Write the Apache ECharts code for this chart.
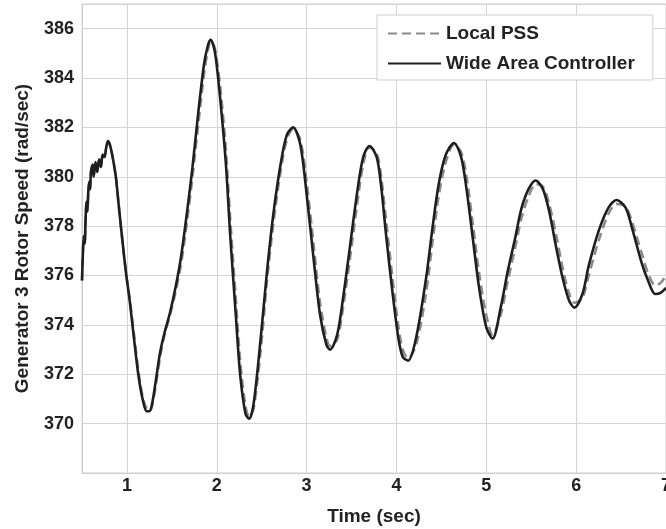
<!DOCTYPE html>
<html>
<head>
<meta charset="utf-8">
<script src="https://cdn.jsdelivr.net/npm/echarts@6/dist/echarts.min.js"></script>
<style>
html,body{margin:0;padding:0;background:#fff;}
#chart{width:666px;height:529px;}
</style>
</head>
<body>
<div id="chart"></div>
<script>
// Time samples (sec)
var timeSec = [0.50,0.51,0.52,0.53,0.54,0.55,0.56,0.57,0.58,0.59,0.60,0.62,0.63,0.65,0.67,0.69,0.71,0.73,0.75,0.77,0.79,0.81,0.83,0.86,0.88,0.91,0.95,0.99,1.03,1.08,1.13,1.18,1.22,1.25,1.28,1.32,1.37,1.42,1.48,1.54,1.60,1.67,1.73,1.80,1.86,1.90,1.93,1.96,1.99,2.04,2.10,2.15,2.21,2.26,2.32,2.36,2.41,2.49,2.56,2.63,2.71,2.78,2.85,2.93,3.00,3.08,3.15,3.22,3.26,3.34,3.41,3.48,3.56,3.63,3.70,3.78,3.83,3.88,3.95,4.02,4.07,4.13,4.22,4.33,4.40,4.47,4.55,4.64,4.72,4.78,4.85,4.92,5.00,5.07,5.16,5.24,5.32,5.39,5.47,5.55,5.63,5.70,5.78,5.85,5.92,5.98,6.07,6.14,6.25,6.36,6.45,6.55,6.62,6.73,6.80,6.88,6.94,7.00];

// Wide Area Controller (solid)
var wideArea = [375.8,376.9,377.6,377.3,378.3,379.0,378.6,379.4,379.8,379.5,380.2,380.5,380.0,380.6,380.2,380.7,380.4,380.9,380.8,381.2,381.45,381.3,381.0,380.4,379.9,378.8,377.4,376.1,375.0,373.4,371.9,370.9,370.5,370.5,370.8,371.7,372.9,373.7,374.5,375.5,376.7,378.6,380.4,382.8,384.6,385.3,385.55,385.35,384.8,383.1,380.6,377.6,374.5,372.0,370.4,370.2,370.8,373.5,376.2,378.5,380.5,381.7,382.0,381.3,379.3,376.6,374.4,373.2,373.0,373.6,375.2,377.1,379.3,380.8,381.25,380.8,379.6,377.8,375.5,373.5,372.7,372.55,373.5,375.9,377.9,379.7,380.9,381.37,380.8,379.5,377.5,375.5,373.9,373.45,374.7,376.2,377.5,378.7,379.5,379.85,379.5,378.6,377.1,375.9,375.0,374.7,375.25,376.4,377.8,378.75,379.06,378.75,377.95,376.5,375.8,375.25,375.3,375.5];

// Local PSS (dashed)
var localPSS = [375.8,376.9,377.6,377.3,378.3,379.0,378.6,379.4,379.8,379.5,380.2,380.5,380.0,380.6,380.2,380.7,380.4,380.9,380.8,381.2,381.45,381.3,381.0,380.4,379.9,378.8,377.4,376.1,375.1,373.6,372.1,371.0,370.6,370.5,370.7,371.5,372.7,373.6,374.4,375.3,376.4,378.2,380.0,382.3,384.2,385.1,385.45,385.4,385.0,383.6,381.2,378.3,375.2,372.6,370.7,370.3,370.6,373.0,375.8,378.1,380.2,381.5,381.95,381.5,379.8,377.2,374.9,373.5,373.15,373.4,374.8,376.6,378.8,380.5,381.2,380.95,380.0,378.4,376.1,374.0,373.0,372.65,373.2,375.3,377.3,379.2,380.6,381.3,381.0,380.0,378.1,376.1,374.4,373.6,374.4,375.8,377.1,378.3,379.2,379.7,379.6,378.9,377.6,376.3,375.3,374.9,375.1,376.0,377.4,378.5,378.9,378.8,378.2,376.9,376.1,375.6,375.7,376.0];

var xTicks = [1,2,3,4,5,6,7];
var seriesNames = ['Local PSS','Wide Area Controller'];

function pairs(t, v){ var out=[]; for (var i=0;i<t.length;i++) out.push([t[i], v[i]]); return out; }

var FONT = '"Liberation Sans", Arial, Helvetica, sans-serif';
var chart = echarts.init(document.getElementById('chart'), null, {renderer:'canvas'});
chart.setOption({
  animation:false,
  backgroundColor:'#fff',
  grid:{left:82, right:0, top:4, bottom:56, show:true, borderColor:'#cfcfcf', borderWidth:1, containLabel:false, outerBoundsMode:'none'},
  legend:{
    orient:'vertical', left:377, top:15,
    data:seriesNames,
    itemWidth:53, itemHeight:14, itemGap:11,
    padding:[9,18,7,10],
    itemStyle:{opacity:0},
    backgroundColor:'#fff', borderColor:'#cfcfcf', borderWidth:1,
    textStyle:{fontFamily:FONT, fontWeight:'bold', fontSize:19, color:'#222'}
  },
  xAxis:{
    type:'value', min:0.5, max:7,
    name:'Time (sec)', nameLocation:'middle', nameGap:34,
    nameTextStyle:{fontFamily:FONT, fontWeight:'bold', fontSize:19, color:'#222'},
    axisLine:{show:true, lineStyle:{color:'#cfcfcf'}},
    axisTick:{show:false, customValues:xTicks},
    axisLabel:{customValues:xTicks, fontFamily:FONT, fontWeight:'bold', fontSize:18, color:'#222', margin:4},
    splitLine:{show:true, lineStyle:{color:'#d4d4d4', width:1}}
  },
  yAxis:{
    type:'value', min:368, max:387, interval:2,
    name:'Generator 3 Rotor Speed (rad/sec)', nameLocation:'middle', nameGap:50,
    nameTextStyle:{fontFamily:FONT, fontWeight:'bold', fontSize:19, color:'#222'},
    axisLine:{show:true, lineStyle:{color:'#cfcfcf'}},
    axisTick:{show:false},
    axisLabel:{showMinLabel:false, showMaxLabel:false, fontFamily:FONT, fontWeight:'bold', fontSize:18, color:'#222', margin:8},
    splitLine:{show:true, lineStyle:{color:'#d4d4d4', width:1}}
  },
  series:[
    {name:seriesNames[0], type:'line', data:pairs(timeSec, localPSS), symbol:'none', smooth:0.3,
     lineStyle:{color:'#8a8a8a', width:2.5, type:[9,5]}, itemStyle:{color:'#8a8a8a'}},
    {name:seriesNames[1], type:'line', data:pairs(timeSec, wideArea), symbol:'none', smooth:0.3,
     lineStyle:{color:'#1e1e1e', width:2.6}, itemStyle:{color:'#1e1e1e'}}
  ]
});
</script>
</body>
</html>
